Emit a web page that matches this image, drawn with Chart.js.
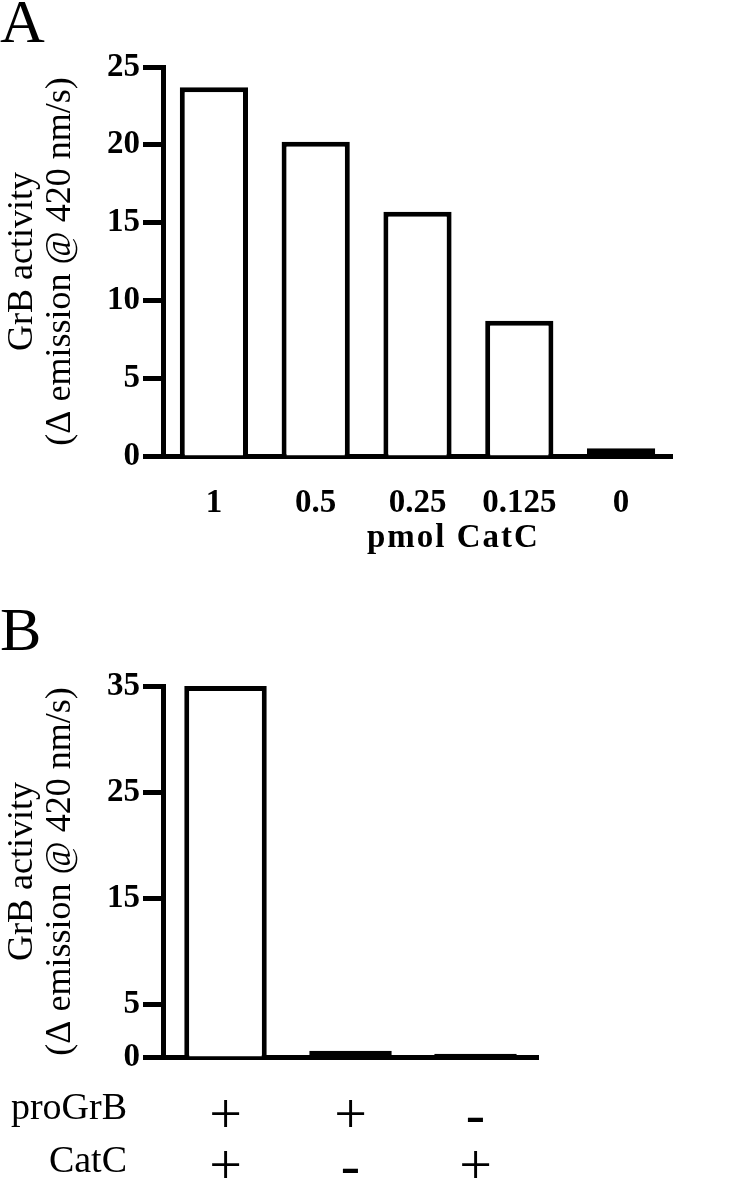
<!DOCTYPE html>
<html>
<head>
<meta charset="utf-8">
<script src="https://cdn.jsdelivr.net/npm/chart.js@4/dist/chart.umd.min.js"></script>
<style>
  html, body { margin: 0; padding: 0; background: #fff; }
  body { width: 750px; height: 1179px; position: relative; overflow: hidden; font-family: 'Liberation Serif', 'Times New Roman', serif; color: #000; }
  .abs { position: absolute; white-space: nowrap; line-height: 1; }
  #wrapA { position: absolute; left: 0; top: 0; width: 750px; height: 560px; }
  #wrapB { position: absolute; left: 0; top: 560px; width: 750px; height: 619px; }
</style>
</head>
<body>
<div id="wrapA"><canvas id="chartA" width="750" height="560"></canvas></div>
<div id="wrapB"><canvas id="chartB" width="750" height="619"></canvas></div>
<div class="abs" style="left:0px; top:-10px; font-size:62px;">A</div>
<div class="abs" style="left:0px; top:598px; font-size:62px;">B</div>
<div class="abs" style="left:367px; top:520px; font-size:33px; font-weight:bold; letter-spacing:2px;">pmol CatC</div>
<div class="abs" style="right:623px; top:1087px; font-size:38px; text-align:right;">proGrB</div>
<div class="abs" style="right:623px; top:1140px; font-size:38px; text-align:right;">CatC</div>
<script>
// ---- Data ----
const categoriesA = ['1', '0.5', '0.25', '0.125', '0'];
const valuesA = [23.7, 20.2, 15.7, 8.7, 0.5];
const yTicksA = [0, 5, 10, 15, 20, 25];

const proGrB = ['+', '+', '-'];
const catC = ['+', '-', '+'];
const valuesB = [35, 0.6, 0.3];
const yTicksB = [0, 5, 15, 25, 35];

const yTitleLines = ['GrB activity', '(\u0394 emission @ 420 nm/s)'];

// ---- Shared styling ----
const BLACK = '#000';
const SERIF = "'Liberation Serif', 'Times New Roman', serif";

function yScale(max, ticksArr) {
  return {
    min: 0,
    max: max,
    afterBuildTicks: (s) => { s.ticks = ticksArr.map(v => ({ value: v })); },
    afterFit: (s) => { s.width = 163; },
    grid: { display: true, drawOnChartArea: false, drawTicks: true, tickLength: 20, tickWidth: 5, tickColor: BLACK, color: BLACK },
    border: { display: true, color: BLACK, width: 5 },
    ticks: { color: BLACK, padding: 3, font: { family: SERIF, size: 33, weight: 'bold' } },
    title: {
      display: true,
      text: yTitleLines,
      color: BLACK,
      padding: { top: 4, bottom: 0 },
      font: { family: SERIF, size: 36, weight: 'normal', lineHeight: '38px' }
    }
  };
}

// small bars are drawn as solid black slabs, tall bars open at the base
const skipBase = (ctx) => (ctx.raw < 2 ? false : 'start');

Chart.defaults.animation = false;

new Chart(document.getElementById('chartA'), {
  type: 'bar',
  data: {
    labels: categoriesA,
    datasets: [{
      data: valuesA,
      backgroundColor: '#fff',
      borderColor: BLACK,
      borderWidth: 5,
      borderSkipped: skipBase,
      barPercentage: 0.67,
      categoryPercentage: 1.0
    }]
  },
  options: {
    responsive: false,
    devicePixelRatio: 1,
    animation: false,
    layout: { padding: { left: 0, top: 67, right: 78, bottom: 0 } },
    plugins: { legend: { display: false }, tooltip: { enabled: false } },
    scales: {
      x: {
        afterFit: (s) => { s.height = 104; },
        grid: { display: false },
        border: { display: true, color: BLACK, width: 5 },
        ticks: { color: BLACK, padding: 20, font: { family: SERIF, size: 33, weight: 'bold' } }
      },
      y: yScale(25, yTicksA)
    }
  }
});

new Chart(document.getElementById('chartB'), {
  type: 'bar',
  data: {
    labels: proGrB.map((p, i) => [p, catC[i]]),
    datasets: [{
      data: valuesB,
      backgroundColor: '#fff',
      borderColor: BLACK,
      borderWidth: 5,
      borderSkipped: skipBase,
      barPercentage: 0.66,
      categoryPercentage: 1.0
    }]
  },
  options: {
    responsive: false,
    devicePixelRatio: 1,
    animation: false,
    layout: { padding: { left: 0, top: 126, right: 212, bottom: 0 } },
    plugins: { legend: { display: false }, tooltip: { enabled: false } },
    scales: {
      x: {
        afterFit: (s) => { s.height = 122; },
        grid: { display: false },
        border: { display: true, color: BLACK, width: 5 },
        ticks: { color: BLACK, padding: 27, font: { family: SERIF, size: 58, weight: 'normal', lineHeight: '51px' } }
      },
      y: yScale(35, yTicksB)
    }
  }
});
</script>
</body>
</html>
